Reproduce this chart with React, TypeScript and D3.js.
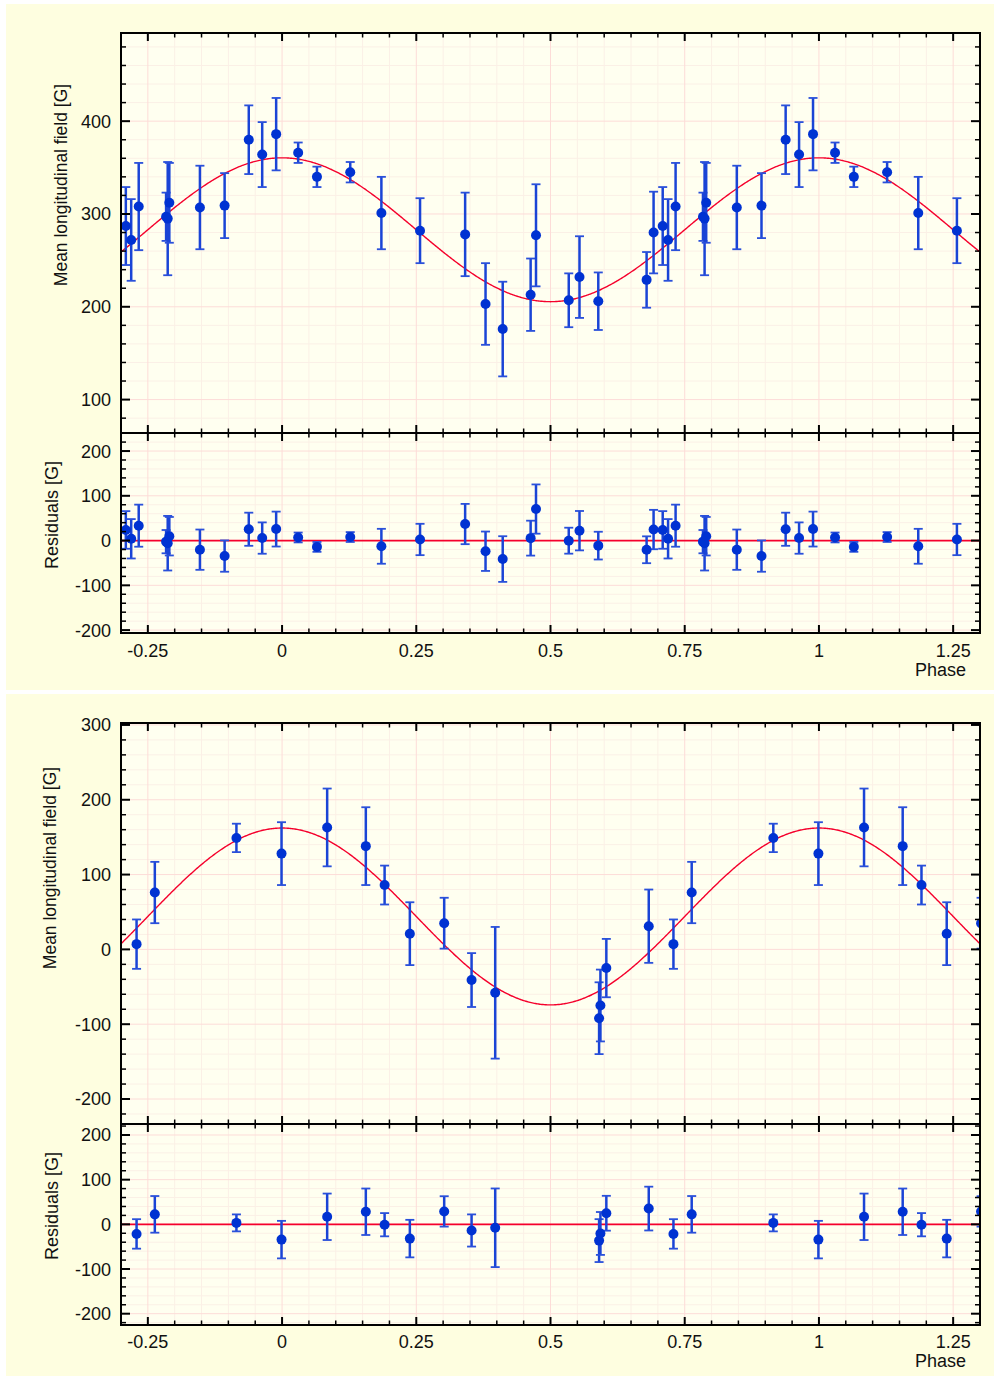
import React, {useEffect, useRef} from 'react';
import * as d3 from 'd3';

const phaseTicks = [-0.25, 0, 0.25, 0.5, 0.75, 1, 1.25];
const phaseTickLabels = ['-0.25', '0', '0.25', '0.5', '0.75', '1', '1.25'];
const residTicks = [-200, -100, 0, 100, 200];

// upper star
const phase1 = [0.030, 0.065, 0.127, 0.185, 0.257, 0.341, 0.379, 0.411, 0.463, 0.473, 0.534, 0.554, 0.589,
  0.679, 0.692, 0.709, 0.719, 0.733, 0.784, 0.787, 0.790, 0.847, 0.893, 0.938, 0.963, 0.989];
const field1 = [366, 340, 345, 301, 282, 278, 203, 176, 213, 277, 207, 232, 206,
  229, 280, 287, 272, 308, 297, 295, 312, 307, 309, 380, 364, 386];
const err1 = [11, 11, 11, 39, 35, 45, 44, 51, 39, 55, 29, 44, 31,
  30, 44, 42, 44, 47, 26, 61, 43, 45, 35, 37, 35, 39];
const fitMean1 = 283;
const fitAmp1 = 77.5;
const fieldTicks1 = [100, 200, 300, 400];

// lower star
const phase2 = [0.084, 0.156, 0.191, 0.238, 0.302, 0.353, 0.397, 0.5905, 0.593, 0.604, 0.683, 0.729, 0.763, 0.915, 0.999];
const field2 = [163, 138, 86, 21, 35, -41, -58, -92, -75, -25, 31, 7, 76, 149, 128];
const err2 = [52, 52, 26, 42, 34, 36, 88, 48, 48, 39, 49, 33, 41, 19, 42];
const fitMean2 = 44;
const fitAmp2 = 118.2;
const fieldTicks2 = [-200, -100, 0, 100, 200, 300];

const W = 996, H = 1376;
const X0 = 121, X1 = 980;
const FONT = 'Liberation Sans, Arial, Helvetica, sans-serif';

const figs = [
  {id: 'a', phase: phase1, field: field1, err: err1, mean: fitMean1, amp: fitAmp1, fTicks: fieldTicks1,
    box: [6, 4, 988, 686], top: 33, mid: 433, bot: 633, yDom: [64, 495], rDom: [-206.5, 240.3],
    labX: 67, labY: 185, resX: 57.5, resY: 515, tickY: 657, phaseY: 676},
  {id: 'b', phase: phase2, field: field2, err: err2, mean: fitMean2, amp: fitAmp2, fTicks: fieldTicks2,
    box: [6, 694, 988, 682], top: 723, mid: 1124, bot: 1325, yDom: [-233.4, 302.6], rDom: [-225.3, 224.6],
    labX: 56, labY: 868, resX: 57.5, resY: 1206, tickY: 1348, phaseY: 1367},
];

export default function App() {
  const svgRef = useRef(null);

  useEffect(() => {
    const svg = d3.select(svgRef.current);
    svg.selectAll('*').remove();

    const x = d3.scaleLinear().domain([-0.3, 1.3]).range([X0, X1]);
    const xMinor = d3.range(-6, 27).map(i => i * 0.05);
    const isMajorX = v => Math.abs(v / 0.25 - Math.round(v / 0.25)) < 1e-6;

    figs.forEach(f => {
      const model = p => f.mean + f.amp * Math.cos(2 * Math.PI * p);
      const pts = [];
      f.phase.forEach((p, i) => {
        [-1, 0, 1].forEach(k => {
          const ph = p + k;
          if (ph > -0.33 && ph < 1.33) pts.push({ph, v: f.field[i], e: f.err[i], r: f.field[i] - model(p)});
        });
      });

      svg.append('rect').attr('x', f.box[0]).attr('y', f.box[1]).attr('width', f.box[2]).attr('height', f.box[3])
        .attr('fill', '#fefee0');

      const panels = [
        {key: 'm', y0: f.top, y1: f.mid, dom: f.yDom, ticks: f.fTicks, val: d => d.v, curve: model},
        {key: 'r', y0: f.mid, y1: f.bot, dom: f.rDom, ticks: residTicks, val: d => d.r, curve: () => 0},
      ];

      panels.forEach(pn => {
        const y = d3.scaleLinear().domain(pn.dom).range([pn.y1, pn.y0]);
        const cid = `clip-${f.id}-${pn.key}`;
        svg.append('clipPath').attr('id', cid).append('rect')
          .attr('x', X0).attr('y', pn.y0).attr('width', X1 - X0).attr('height', pn.y1 - pn.y0);

        svg.append('rect').attr('x', X0).attr('y', pn.y0).attr('width', X1 - X0).attr('height', pn.y1 - pn.y0)
          .attr('fill', '#fffff0');

        const g = svg.append('g').attr('clip-path', `url(#${cid})`);
        const yMinor = d3.range(Math.ceil(pn.dom[0] / 20), Math.floor(pn.dom[1] / 20) + 1).map(i => i * 20);

        // grid
        g.selectAll('.vminor').data(xMinor.filter(v => !isMajorX(v))).join('line')
          .attr('x1', d => x(d)).attr('x2', d => x(d)).attr('y1', pn.y0).attr('y2', pn.y1)
          .attr('stroke', '#fbf0e6').attr('stroke-width', 1);
        g.selectAll('.hminor').data(yMinor.filter(v => v % 100 !== 0)).join('line')
          .attr('x1', X0).attr('x2', X1).attr('y1', d => y(d)).attr('y2', d => y(d))
          .attr('stroke', '#fbf0e6').attr('stroke-width', 1);
        g.selectAll('.vmajor').data(phaseTicks).join('line')
          .attr('x1', d => x(d)).attr('x2', d => x(d)).attr('y1', pn.y0).attr('y2', pn.y1)
          .attr('stroke', '#fddcd8').attr('stroke-width', 1);
        g.selectAll('.hmajor').data(pn.ticks).join('line')
          .attr('x1', X0).attr('x2', X1).attr('y1', d => y(d)).attr('y2', d => y(d))
          .attr('stroke', '#fddcd8').attr('stroke-width', 1);

        // fit
        const line = d3.line().x(d => x(d)).y(d => y(pn.curve(d)));
        g.append('path').datum(d3.range(-0.3, 1.3005, 0.002)).attr('d', line)
          .attr('fill', 'none').attr('stroke', '#f5002c').attr('stroke-width', pn.key === 'm' ? 1.4 : 1.8);

        // error bars
        const eb = g.selectAll('.eb').data(pts).join('g');
        eb.append('line').attr('x1', d => x(d.ph)).attr('x2', d => x(d.ph))
          .attr('y1', d => y(pn.val(d) - d.e)).attr('y2', d => y(pn.val(d) + d.e))
          .attr('stroke', '#1a44d6').attr('stroke-width', 2.5);
        [-1, 1].forEach(s => {
          eb.append('line').attr('x1', d => x(d.ph) - 4.5).attr('x2', d => x(d.ph) + 4.5)
            .attr('y1', d => y(pn.val(d) + s * d.e)).attr('y2', d => y(pn.val(d) + s * d.e))
            .attr('stroke', '#2a50da').attr('stroke-width', 1.8);
        });
        g.selectAll('.pt').data(pts).join('circle')
          .attr('cx', d => x(d.ph)).attr('cy', d => y(pn.val(d))).attr('r', 5)
          .attr('fill', '#0032d2');

        // frame ticks
        const tk = svg.append('g').attr('stroke', '#000');
        xMinor.forEach(v => {
          const len = isMajorX(v) ? 8 : 4.5;
          const sw = isMajorX(v) ? 2 : 1.5;
          tk.append('line').attr('x1', x(v)).attr('x2', x(v)).attr('y1', pn.y0).attr('y2', pn.y0 + len).attr('stroke-width', sw);
          tk.append('line').attr('x1', x(v)).attr('x2', x(v)).attr('y1', pn.y1).attr('y2', pn.y1 - len).attr('stroke-width', sw);
        });
        yMinor.forEach(v => {
          const maj = v % 100 === 0;
          const len = maj ? 9 : 5;
          const sw = maj ? 2 : 1.5;
          tk.append('line').attr('x1', X0).attr('x2', X0 + len).attr('y1', y(v)).attr('y2', y(v)).attr('stroke-width', sw);
          tk.append('line').attr('x1', X1).attr('x2', X1 - len).attr('y1', y(v)).attr('y2', y(v)).attr('stroke-width', sw);
        });

        svg.append('rect').attr('x', X0).attr('y', pn.y0).attr('width', X1 - X0).attr('height', pn.y1 - pn.y0)
          .attr('fill', 'none').attr('stroke', '#000').attr('stroke-width', 2);

        svg.append('g').selectAll('text').data(pn.ticks).join('text')
          .attr('x', 111).attr('y', d => y(d)).attr('dy', '0.36em')
          .attr('text-anchor', 'end').attr('font-family', FONT).attr('font-size', 18).attr('fill', '#111')
          .text(d => d);
      });

      svg.append('g').selectAll('text').data(phaseTicks).join('text')
        .attr('x', d => x(d)).attr('y', f.tickY).attr('text-anchor', 'middle')
        .attr('font-family', FONT).attr('font-size', 18).attr('fill', '#111')
        .text((d, i) => phaseTickLabels[i]);

      svg.append('text').attr('x', 966).attr('y', f.phaseY).attr('text-anchor', 'end')
        .attr('font-family', FONT).attr('font-size', 18).attr('fill', '#111').text('Phase');

      svg.append('text').attr('transform', `translate(${f.labX},${f.labY}) rotate(-90)`)
        .attr('text-anchor', 'middle').attr('font-family', FONT).attr('font-size', 17.5).attr('fill', '#111')
        .text('Mean longitudinal field [G]');
      svg.append('text').attr('transform', `translate(${f.resX},${f.resY}) rotate(-90)`)
        .attr('text-anchor', 'middle').attr('font-family', FONT).attr('font-size', 18).attr('fill', '#111')
        .text('Residuals [G]');
    });
  }, []);

  return (
    <div style={{position: 'absolute', left: 0, top: 0, background: '#fff'}}>
      <svg ref={svgRef} width={W} height={H} style={{display: 'block'}}></svg>
    </div>
  );
}
